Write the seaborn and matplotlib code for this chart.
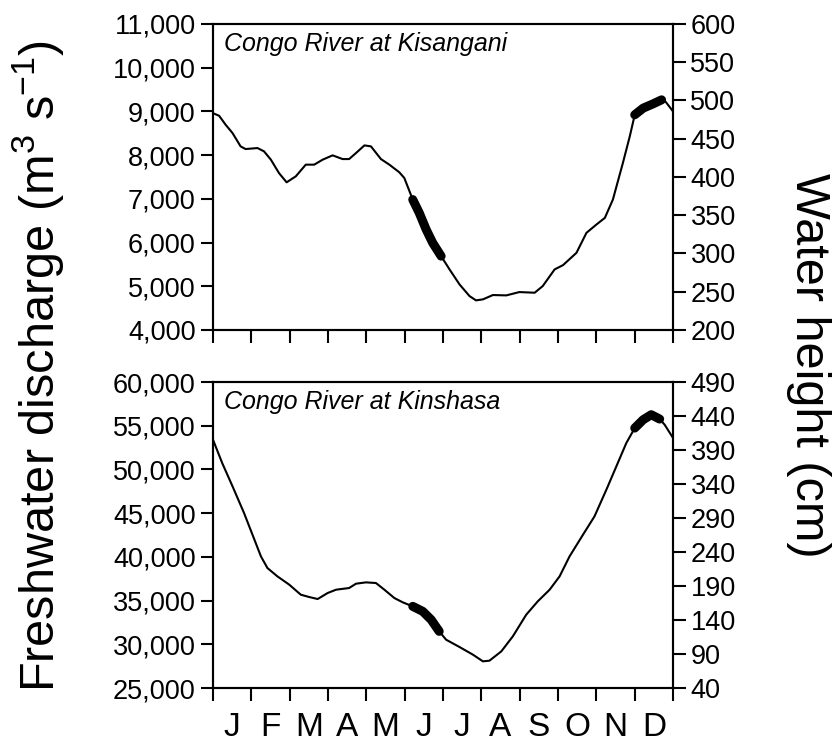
import numpy as np
import pandas as pd
import matplotlib
matplotlib.use("Agg")
import matplotlib.pyplot as plt
from matplotlib.ticker import FuncFormatter, FixedLocator
import seaborn as sns

# month position (0 = 1 Jan, 12 = 31 Dec)
kis_month = [0.0, 0.16, 0.33, 0.51, 0.72, 0.85, 1.16, 1.33, 1.51, 1.72, 1.92, 2.16,
             2.42, 2.64, 2.86, 3.12, 3.38, 3.55, 3.73, 3.95, 4.12, 4.38, 4.60, 4.86,
             4.99, 5.21, 5.38, 5.56, 5.73, 5.95, 6.17, 6.43, 6.69, 6.86, 7.04, 7.30,
             7.65, 7.99, 8.39, 8.60, 8.91, 9.13, 9.48, 9.74, 10.00, 10.22, 10.43,
             10.69, 10.87, 11.00, 11.22, 11.48, 11.70, 11.78, 12.0]
kis_discharge = [8960, 8900, 8695, 8504, 8200, 8139, 8162, 8087, 7896, 7591, 7378, 7515,
                 7782, 7782, 7896, 7995, 7910, 7910, 8048, 8223, 8200, 7910, 7782, 7607,
                 7477, 6983, 6678, 6298, 5993, 5689, 5385, 5042, 4776, 4677, 4700, 4799,
                 4791, 4867, 4852, 5004, 5385, 5484, 5765, 6222, 6412, 6564, 6983,
                 7819, 8428, 8923, 9075, 9174, 9265, 9250, 8999]

kin_month = [0.0, 0.24, 0.51, 0.81, 1.03, 1.25, 1.42, 1.68, 1.99, 2.29, 2.51, 2.73,
             2.99, 3.21, 3.55, 3.73, 3.99, 4.25, 4.47, 4.73, 4.95, 5.21, 5.47, 5.69,
             5.90, 6.08, 6.43, 6.78, 7.04, 7.21, 7.52, 7.82, 8.17, 8.47, 8.78, 9.04,
             9.30, 9.65, 9.95, 10.26, 10.52, 10.78, 11.00, 11.22, 11.43, 11.65, 11.78, 12.0]
kin_discharge = [53404, 50735, 48066, 45016, 42538, 40060, 38725, 37772, 36819, 35675,
                 35408, 35180, 35866, 36247, 36438, 36934, 37086, 37010, 36247, 35294,
                 34799, 34341, 33769, 32816, 31481, 30528, 29689, 28813, 28050, 28126,
                 29194, 30909, 33388, 34913, 36247, 37772, 40060, 42538, 44635, 47685,
                 50354, 53023, 54738, 55692, 56264, 55768, 55120, 53595]

# periods drawn with a thick line
highlight = [(5.2, 5.95), (11.0, 11.7)]

month_labels = ["J", "F", "M", "A", "M", "J", "J", "A", "S", "O", "N", "D"]

sns.set_style("ticks")
plt.rcParams["font.family"] = ["Liberation Sans", "DejaVu Sans"]
plt.rcParams["mathtext.fontset"] = "custom"
plt.rcParams["mathtext.rm"] = "Liberation Sans"
plt.rcParams["axes.linewidth"] = 1.5
for key in ["text.color", "axes.labelcolor", "xtick.color", "ytick.color", "axes.edgecolor"]:
    plt.rcParams[key] = "black"

fig = plt.figure(figsize=(8.32, 7.43), dpi=100)
ax_top = fig.add_axes([0.256, 0.5559, 0.553, 0.4118])
ax_bot = fig.add_axes([0.256, 0.0740, 0.553, 0.4118])

panels = [
    (ax_top, kis_month, kis_discharge, "Congo River at Kisangani",
     (4000, 11000, 1000), (200, 600, 50)),
    (ax_bot, kin_month, kin_discharge, "Congo River at Kinshasa",
     (25000, 60000, 5000), (40, 490, 50)),
]

for ax, xm, q, name, left_rng, right_rng in panels:
    df = pd.DataFrame({"month": xm, "discharge": q})
    sns.lineplot(data=df, x="month", y="discharge", ax=ax, color="black",
                 linewidth=1.5, sort=False)
    for a, b in highlight:
        sub = df[(df["month"] >= a) & (df["month"] <= b)]
        sns.lineplot(data=sub, x="month", y="discharge", ax=ax, color="black",
                     linewidth=6.5, sort=False, solid_capstyle="round")
    ax.set_xlim(0, 12)
    ax.set_ylim(left_rng[0], left_rng[1])
    ax.set_yticks(np.arange(left_rng[0], left_rng[1] + 1, left_rng[2]))
    ax.yaxis.set_major_formatter(FuncFormatter(lambda v, p: f"{int(v):,}"))
    ax.set_xlabel("")
    ax.set_ylabel("")
    ax.xaxis.set_major_locator(FixedLocator(np.arange(0, 13)))
    ax.xaxis.set_minor_locator(FixedLocator(np.arange(0.5, 12, 1)))
    ax.set_xticklabels([])
    ax.tick_params(axis="both", which="major", direction="out", length=9,
                   width=1.5, labelsize=19.5, colors="black")
    ax.tick_params(axis="x", which="minor", length=0)
    ax.text(0.025, 0.975, name, transform=ax.transAxes, ha="left", va="top",
            fontsize=18, style="italic")

    ax2 = ax.twinx()
    ax2.set_ylim(right_rng[0], right_rng[1])
    ax2.set_yticks(np.arange(right_rng[0], right_rng[1] + 1, right_rng[2]))
    ax2.tick_params(axis="y", direction="out", length=9, width=1.5, labelsize=19.5,
                    colors="black")
    for s in ax2.spines.values():
        s.set_linewidth(1.5)

ax_bot.set_xticklabels(month_labels, minor=True)
ax_bot.tick_params(axis="x", which="minor", labelsize=24, pad=17)

fig.text(0.047, 0.508, "Freshwater discharge (m$^{\\mathregular{3}}$ s$^{\\mathregular{-1}}$)",
         rotation=90, ha="center", va="center", fontsize=35)
fig.text(0.972, 0.508, "Water height (cm)", rotation=270,
         ha="center", va="center", fontsize=35)

fig.savefig("out.png", dpi=100)
